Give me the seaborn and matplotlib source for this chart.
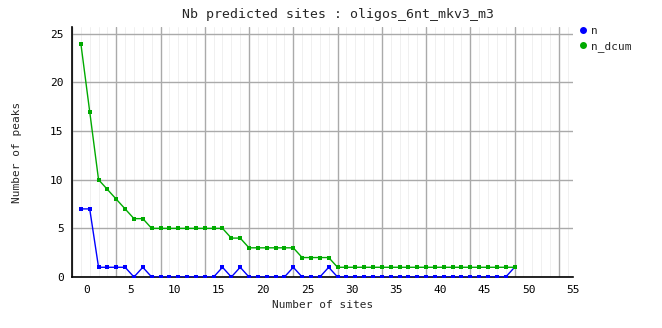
import numpy as np
import pandas as pd
import matplotlib
matplotlib.use("Agg")
import matplotlib.pyplot as plt
import seaborn as sns
from matplotlib.lines import Line2D

sites = list(range(0, 50))
n = [7, 7, 1, 1, 1, 1, 0, 1, 0, 0, 0, 0, 0, 0, 0, 0, 1, 0, 1, 0,
     0, 0, 0, 0, 1, 0, 0, 0, 1, 0, 0, 0, 0, 0, 0, 0, 0, 0, 0, 0,
     0, 0, 0, 0, 0, 0, 0, 0, 0, 1]
n_dcum = [24, 17, 10, 9, 8, 7, 6, 6, 5, 5, 5, 5, 5, 5, 5, 5, 5, 4, 4, 3,
          3, 3, 3, 3, 3, 2, 2, 2, 2, 1, 1, 1, 1, 1, 1, 1, 1, 1, 1, 1,
          1, 1, 1, 1, 1, 1, 1, 1, 1, 1]
xtick_labels = ["0", "5", "10", "15", "20", "25", "30", "35", "40", "45", "50", "55"]
ytick_labels = ["0", "5", "10", "15", "20", "25"]

df = pd.DataFrame({
    "site": sites * 2,
    "value": n + n_dcum,
    "series": ["n"] * len(n) + ["n_dcum"] * len(n_dcum),
})

sns.set_theme(style="white")
plt.rcParams["font.family"] = ["DejaVu Sans Mono", "DejaVu Sans"]

fig = plt.figure(figsize=(6.62, 3.28), dpi=100)
ax = fig.add_axes([72 / 662, 51 / 328, 501 / 662, 250 / 328])

palette = {"n": "#0000ff", "n_dcum": "#00aa00"}
sns.lineplot(data=df, x="site", y="value", hue="series", palette=palette,
             marker="s", markersize=3.5, markeredgewidth=0, linewidth=1,
             ax=ax, legend=False, zorder=3)

# grid
for v in range(0, 56):
    ax.axvline(v, color="#f0f0f0", linewidth=0.7, zorder=0)
for v in range(-1, 56, 5):
    ax.axvline(v, color="#aaaaaa", linewidth=1, zorder=1)
for v in range(0, 26, 5):
    ax.axhline(v, color="#aaaaaa", linewidth=1, zorder=1)

ax.set_xlim(-1, 54.2)
ax.set_ylim(0, 25.7)
xt = [5 * k + 0.6 for k in range(len(xtick_labels))]
ax.set_xticks(xt)
ax.set_xticklabels(xtick_labels, fontsize=8)
ax.set_yticks([0, 5, 10, 15, 20, 25])
ax.set_yticklabels(ytick_labels, fontsize=8)
ax.tick_params(axis="both", length=0, pad=6, colors="black")

for s in ["top", "right"]:
    ax.spines[s].set_visible(False)
for s in ["left", "bottom"]:
    ax.spines[s].set_color("black")
    ax.spines[s].set_linewidth(1.2)
    ax.spines[s].set_zorder(2)

ax.set_xlabel("Number of sites", fontsize=8, labelpad=3)
ax.set_ylabel("Number of peaks", fontsize=8, labelpad=20)
fig.suptitle("Nb predicted sites : oligos_6nt_mkv3_m3", fontsize=9.5, x=0.51, y=0.975)

# legend
handles = [Line2D([], [], color=palette[k], marker="o", linestyle="none", markersize=4)
           for k in ["n", "n_dcum"]]
fig.legend(handles, ["n", "n_dcum"], loc="upper left", bbox_to_anchor=(577 / 662, 1 - 26 / 328),
           frameon=False, fontsize=8, handletextpad=0.3, labelspacing=0.45, handlelength=1.0,
           borderaxespad=0, borderpad=0)

fig.savefig("out.png", dpi=100, facecolor="white")
